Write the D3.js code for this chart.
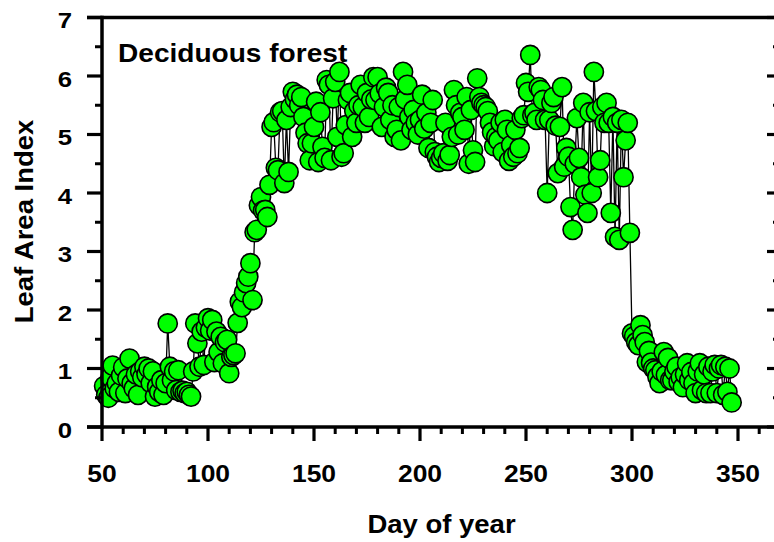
<!DOCTYPE html>
<html><head><meta charset="utf-8">
<script src="https://cdn.jsdelivr.net/npm/d3@7"></script>
<style>html,body{margin:0;padding:0;background:#fff;}svg{display:block;}</style>
</head><body>
<script>
const days = [51,52,53,54,55,56,57,58,59,60,61,62,63,64,65,66,67,68,69,70,71,72,73,74,75,76,77,78,79,80,81,82,83,84,85,86,87,88,89,90,91,92,93,94,95,96,97,98,99,100,101,102,103,104,105,106,107,108,109,110,111,112,113,114,115,116,117,118,119,120,121,122,123,124,125,126,127,128,129,130,131,132,133,134,135,136,137,138,139,140,141,142,143,144,145,146,147,148,149,150,151,152,153,154,155,156,157,158,159,160,161,162,163,164,165,166,167,168,169,170,171,172,173,174,175,176,177,178,179,180,181,182,183,184,185,186,187,188,189,190,191,192,193,194,195,196,197,198,199,200,201,202,203,204,205,206,207,208,209,210,211,212,213,214,215,216,217,218,219,220,221,222,223,224,225,226,227,228,229,230,231,232,233,234,235,236,237,238,239,240,241,242,243,244,245,246,247,248,249,250,251,252,253,254,255,256,257,258,259,260,261,262,263,264,265,266,267,268,269,270,271,272,273,274,275,276,277,278,279,280,281,282,283,284,285,286,287,288,289,290,291,292,293,294,295,296,297,298,299,300,301,302,303,304,305,306,307,308,309,310,311,312,313,314,315,316,317,318,319,320,321,322,323,324,325,326,327,328,329,330,331,332,333,334,335,336,337,338,339,340,341,342,343,344,345,346,347];
const lai = [0.70,0.55,0.50,0.85,1.05,0.66,0.75,0.60,0.88,1.02,0.58,0.83,1.17,0.75,0.66,0.90,0.55,0.95,0.85,1.03,0.90,1.00,0.75,0.95,0.52,0.69,0.60,0.80,0.55,0.75,1.77,1.03,0.80,0.95,0.63,0.97,0.60,0.62,0.58,0.60,0.55,0.52,0.95,1.77,1.43,1.03,1.63,1.06,1.70,1.86,1.65,1.83,1.11,1.63,1.28,1.54,1.09,1.45,1.49,0.92,1.20,1.23,1.26,1.78,2.14,2.05,2.30,2.46,2.57,2.80,2.17,3.33,3.37,3.79,3.93,3.70,3.71,3.59,4.14,5.13,5.21,4.43,4.39,5.38,5.40,4.17,5.25,4.36,5.47,5.73,5.60,5.68,5.50,5.64,5.30,5.03,4.85,4.56,4.85,5.13,5.56,4.53,5.38,4.79,4.60,5.93,5.85,4.56,5.62,5.90,4.96,6.07,4.62,4.68,5.16,5.59,5.71,4.96,5.40,5.20,5.50,5.85,5.47,5.20,5.71,5.30,5.60,5.98,5.59,5.98,5.70,5.13,5.47,5.80,5.71,5.25,5.50,4.96,5.08,5.47,4.90,6.07,5.60,5.85,5.30,5.08,5.42,5.20,5.00,5.25,5.68,5.10,5.37,4.77,5.20,5.59,4.70,4.62,4.53,4.60,4.68,5.20,4.55,4.65,4.96,5.76,5.50,5.00,5.37,5.30,5.08,5.64,4.50,5.42,4.73,4.53,5.96,5.64,5.54,5.50,5.47,5.40,5.20,5.04,4.80,4.96,4.90,5.20,4.70,5.25,5.08,4.55,4.82,4.62,5.08,4.68,4.77,5.28,5.33,5.88,5.73,6.36,5.33,5.37,5.25,5.81,5.76,5.59,5.25,4.00,5.25,5.54,5.64,5.15,4.34,5.13,5.81,4.45,4.77,4.62,3.76,3.37,4.50,5.28,4.60,4.27,5.54,3.97,3.66,5.38,4.00,6.07,5.40,4.27,4.56,5.47,5.20,5.54,5.20,3.66,5.30,3.25,5.20,3.20,5.25,4.27,4.90,5.20,3.32,1.60,1.55,1.45,1.40,1.74,1.57,1.45,1.11,1.30,1.10,1.00,0.97,0.86,0.75,0.95,1.28,0.89,1.18,0.80,0.80,0.95,1.03,0.77,0.85,0.68,0.90,1.09,0.80,0.94,0.75,0.58,0.95,1.09,0.63,0.90,0.58,1.03,0.58,0.95,1.06,0.58,1.00,1.06,0.55,1.03,0.60,1.00,0.42];
const yTicks = [0,1,2,3,4,5,6,7];
const xTicks = [50,100,150,200,250,300,350];
const xTitle = "Day of year";
const yTitle = "Leaf Area Index";
const panelLabel = "Deciduous forest";

const W = 774, H = 542;
const svg = d3.select("body").append("svg").attr("width", W).attr("height", H);
const x = d3.scaleLinear().domain([50, 370]).range([102, 780.4]);
const y = d3.scaleLinear().domain([0, 7]).range([427, 17.5]);
const FONT = "'Liberation Sans', Arial, Helvetica, sans-serif";

function txt(g, s, tx, ty, size, sx, anchor, rot) {
  return g.append("text").text(s)
    .attr("transform", `translate(${tx},${ty})` + (rot ? ` rotate(${rot})` : "") + ` scale(${sx},1)`)
    .attr("text-anchor", anchor).attr("font-family", FONT).attr("font-weight", "bold")
    .attr("font-size", size).attr("fill", "#000");
}

// data line + points
const n = Math.min(days.length, lai.length);
const pts = d3.range(n).map(i => [days[i], lai[i]]);
svg.append("path").datum(pts)
  .attr("d", d3.line().x(d => x(d[0])).y(d => y(d[1])))
  .attr("fill", "none").attr("stroke", "#000").attr("stroke-width", 1.3);
svg.append("g").selectAll("circle").data(pts).join("circle")
  .attr("cx", d => x(d[0])).attr("cy", d => y(d[1])).attr("r", 9.6)
  .attr("fill", "#00ff00").attr("stroke", "#000").attr("stroke-width", 1.6);

// axes
const AX = 3.5;
const minorY = d3.range(0.5, 7, 1);
const minorX = d3.range(60, 370, 10).filter(v => v % 50 !== 0);
const ax = svg.append("g").attr("stroke", "#000").attr("stroke-linecap", "butt");
// left
ax.append("line").attr("x1", 102).attr("x2", 102).attr("y1", y(7) - AX/2).attr("y2", y(0) + AX/2).attr("stroke-width", AX);
yTicks.forEach(t => ax.append("line").attr("x1", 87).attr("x2", 102).attr("y1", y(t)).attr("y2", y(t)).attr("stroke-width", 3.2));
minorY.forEach(t => ax.append("line").attr("x1", 95).attr("x2", 102).attr("y1", y(t)).attr("y2", y(t)).attr("stroke-width", 3));
// top
ax.append("line").attr("x1", 87).attr("x2", W).attr("y1", y(7)).attr("y2", y(7)).attr("stroke-width", AX);
// bottom
ax.append("line").attr("x1", 87).attr("x2", W).attr("y1", y(0)).attr("y2", y(0)).attr("stroke-width", AX);
xTicks.forEach(t => ax.append("line").attr("x1", x(t)).attr("x2", x(t)).attr("y1", y(0)).attr("y2", y(0) + 14).attr("stroke-width", 3.2));
minorX.forEach(t => ax.append("line").attr("x1", x(t)).attr("x2", x(t)).attr("y1", y(0)).attr("y2", y(0) + 7).attr("stroke-width", 3));
// right (mostly off-canvas)
ax.append("line").attr("x1", 781).attr("x2", 781).attr("y1", y(7)).attr("y2", y(0)).attr("stroke-width", AX);
yTicks.forEach(t => ax.append("line").attr("x1", 767).attr("x2", 781).attr("y1", y(t)).attr("y2", y(t)).attr("stroke-width", 3.2));
minorY.forEach(t => ax.append("line").attr("x1", 773).attr("x2", 781).attr("y1", y(t)).attr("y2", y(t)).attr("stroke-width", 3));

// tick labels
const tg = svg.append("g");
yTicks.forEach(t => txt(tg, String(t), 72, y(t) + 10.5, 23, 1.12, "end"));
xTicks.forEach(t => txt(tg, String(t), x(t), 482, 23, 1.15, "middle"));

// titles
txt(svg, xTitle, 441.5, 533, 25, 1.1, "middle");
txt(svg, yTitle, 33, 221.5, 25, 1.1, "middle", -90);
txt(svg, panelLabel, 118, 62, 26, 1.08, "start");
</script>
</body></html>
